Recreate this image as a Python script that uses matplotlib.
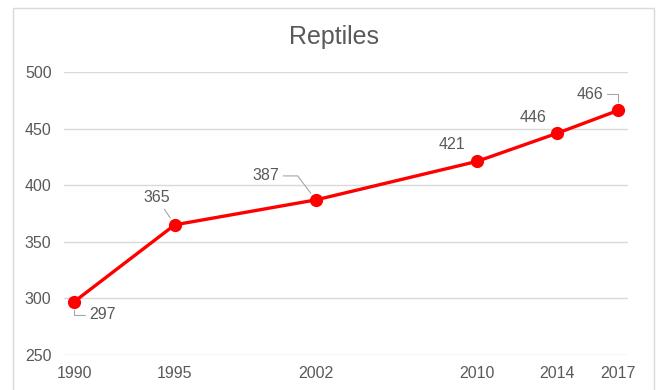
import matplotlib.pyplot as plt
from matplotlib.patches import Rectangle

plt.rcParams['font.family'] = ['Liberation Sans', 'DejaVu Sans']

years = [1990, 1995, 2002, 2010, 2014, 2017]
reptiles = [297, 365, 387, 421, 446, 466]

# label offsets in pixels from each point, and whether a leader line is drawn
label_offsets = [(28, -13), (-18, 27), (-50, 24), (-25, 17), (-24, 16), (-28, 16)]
leader_styles = ['angle,angleA=180,angleB=-90', 'arc3', 'angle,angleA=0,angleB=127',
                 None, None, 'angle,angleA=0,angleB=90']

text_color = '#595959'
grid_color = '#d9d9d9'

fig = plt.figure(figsize=(6.58, 3.9), dpi=100)
ax = fig.add_axes([64 / 658, 1 - 355 / 390, (628 - 64) / 658, (355 - 72) / 390])

# chart area border
fig.patches.append(Rectangle((13 / 658, -0.05), (654 - 13) / 658, 1.05 - 8 / 390,
                             transform=fig.transFigure, fill=False,
                             edgecolor=grid_color, linewidth=1.0))

ax.plot(years, reptiles, color='#ff0000', linewidth=2.4, marker='o',
        markersize=8.5, zorder=3, clip_on=False)

for x, y, off, style in zip(years, reptiles, label_offsets, leader_styles):
    arrow = None
    if style is not None:
        arrow = dict(arrowstyle='-', color='#a6a6a6', linewidth=0.8,
                     connectionstyle=style, shrinkA=1, shrinkB=6)
    ax.annotate(str(y), (x, y), xytext=off, textcoords='offset pixels',
                ha='center', va='center', fontsize=11.5, color=text_color,
                arrowprops=arrow)

ax.set_xlim(1989.5, 2017.5)
ax.set_ylim(250, 500)
ax.set_xticks(years)
ax.set_yticks(range(250, 501, 50))
ax.grid(axis='y', color=grid_color, linewidth=1.0)
ax.set_axisbelow(True)
for s in ax.spines.values():
    s.set_visible(False)
ax.tick_params(length=0, labelsize=11.5, labelcolor=text_color)
ax.tick_params(axis='x', pad=8)
ax.tick_params(axis='y', pad=9)

fig.text(334 / 658, 1 - 37 / 390, 'Reptiles', ha='center', va='center',
         fontsize=18, color=text_color)

fig.savefig('out.png', dpi=100)
